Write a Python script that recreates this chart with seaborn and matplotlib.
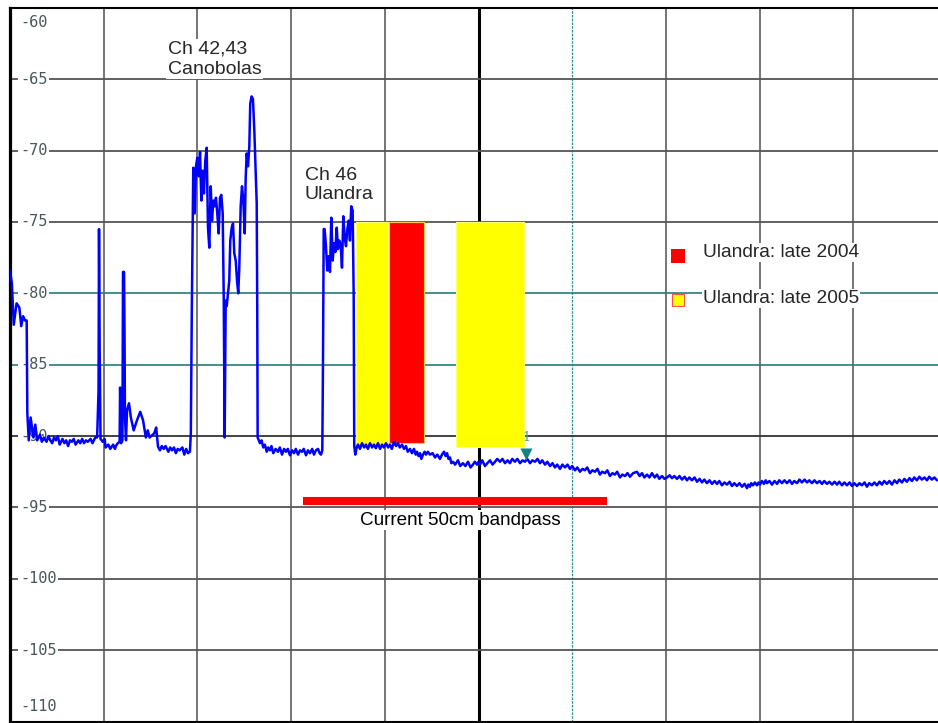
import numpy as np
import pandas as pd
import matplotlib
matplotlib.use("Agg")
import matplotlib.pyplot as plt
import seaborn as sns

# Spectrum trace: (sweep bin, level in dBm); 100 bins per division
trace_points = [
    # band edge at the left
    (0, -78.4), (2, -79.3), (4, -82.2), (7, -80.7), (10, -81.0), (12, -82.3), (14, -81.6),
    (16, -81.9), (17.8, -81.9), (18.5, -88.4), (20, -90.3), (22, -88.7), (25, -90.1),
    (27, -89.2), (29, -90.3), (32, -89.9), (34, -90.4), (36, -90.1), (39, -90.4), (41, -90.0),
    (43, -90.3), (45, -90.5), (47, -90.1), (49, -90.3), (51, -90.0), (53, -90.6), (56, -90.2),
    (58, -90.5), (60, -90.3), (62, -90.7), (64, -90.3), (66, -90.4), (68, -90.2), (70, -90.6),
    (73, -90.3), (75, -90.5), (77, -90.2), (79, -90.5), (81, -90.3), (83, -90.4), (86, -90.2),
    (88, -90.5), (91, -90.1), (93, -90.1),
    # narrow carriers
    (94.5, -86.8), (95, -75.5), (95.7, -84.0), (96.6, -90.2), (99, -90.4), (101, -90.2),
    (102, -90.8), (105, -90.6), (107, -90.9), (110, -90.6), (112, -90.9), (113, -90.7),
    (115, -90.5), (117, -90.4), (117.5, -86.6), (118.5, -90.5), (120, -90.3), (120.6, -78.5),
    (121.7, -78.5), (122.2, -82.6), (122.7, -88.7), (123.8, -90.3), (124.9, -88.2), (127, -87.7),
    (129, -88.7), (132, -89.6), (135.5, -88.9), (139, -88.3), (142, -88.9), (145, -90.1),
    (147, -89.6), (149, -90.1), (154, -89.8), (156, -89.4), (158, -90.75), (160, -91.0),
    (162, -90.7), (164, -90.9), (166, -90.7), (169, -91.1), (171, -90.8), (173, -91.0),
    (175, -90.8), (177, -91.2), (179, -90.9), (181, -91.0), (184, -90.8), (186, -91.3),
    (188, -90.9), (190, -91.2), (192, -91.1), (193, -89.8), (194, -81.4),
    # Ch 42,43 Canobolas
    (195.6, -71.2), (197.1, -74.4), (198.5, -71.1), (199.9, -70.5), (201.4, -71.8), (202.8, -70.1),
    (204.2, -73.5), (205.6, -71.4), (207.0, -73.0), (208.4, -70.7), (209.9, -69.8), (211.3, -75.4),
    (212.7, -76.8), (214.2, -72.5), (215.6, -74.9), (217.0, -73.5), (218.5, -73.9), (219.8, -73.3),
    (221.2, -74.4), (222.7, -75.8), (224.1, -73.3), (225.5, -73.1), (227.0, -74.4), (228.1, -80.2),
    (229.1, -90.1), (230.2, -80.5), (231.3, -80.9), (232.6, -80.0), (234.0, -79.1), (235.1, -76.3),
    (236.6, -75.4), (238.0, -75.1), (239.4, -77.2), (240.9, -77.7), (242.3, -79.1), (243.6, -80.0),
    (244.7, -78.2), (246.2, -73.9), (247.6, -72.5), (249.0, -73.5), (250.5, -75.8), (251.5, -72.0),
    (252.6, -70.2), (254.0, -71.1), (255.4, -69.7), (256.4, -66.7), (257.9, -66.2), (259.3, -66.4),
    (260.7, -68.5), (262.2, -71.5), (263.3, -73.7), (263.9, -81.4), (264.3, -90.1),
    (266.8, -90.5), (268.5, -90.3), (270.3, -90.8), (272, -90.6), (274.0, -91.1), (275.5, -90.8),
    (277.5, -91.0), (279, -90.7), (281.0, -91.2), (283.5, -90.9), (286.0, -91.1), (288, -90.8),
    (290.3, -91.3), (292.5, -90.9), (294.5, -91.1), (296.5, -90.9), (298.8, -91.35), (301, -91.0),
    (303.1, -91.2), (305, -90.9), (307.4, -91.3), (309.5, -91.0), (311.6, -91.1), (313.5, -90.9),
    (315.9, -91.35), (318, -91.0), (320.2, -91.2), (322.5, -90.9), (324.4, -91.3), (326.5, -91.0),
    (328.7, -90.9), (330.5, -91.2), (331.9, -91.3), (333.3, -91.0),
    # Ch 46 Ulandra
    (334.0, -85.2), (334.8, -75.5), (335.8, -75.5), (337.2, -76.7), (338.6, -78.4), (340.1, -77.4),
    (341.5, -78.5), (342.9, -74.7), (344.4, -77.7), (345.8, -76.5), (347.2, -77.1), (348.7, -75.4),
    (350.0, -76.9), (351.4, -76.3), (352.9, -76.6), (354.3, -78.2), (355.7, -74.6), (357.2, -76.1),
    (358.6, -76.7), (360.0, -75.5), (361.5, -74.9), (362.8, -76.3), (364.2, -73.9), (365.7, -74.2),
    (366.8, -80.2), (367.4, -90.7), (368.5, -91.3),
    # noise floor
    (370, -90.8), (371.4, -90.6), (373.5, -90.9), (375.7, -90.5), (378, -90.8), (379.9, -90.6),
    (382, -90.9), (384.2, -90.5), (386.5, -90.8), (388.4, -90.6), (390.5, -90.85), (392.7, -90.5),
    (395, -90.9), (397.0, -90.6), (399, -90.8), (401.3, -90.5), (403.5, -90.8), (405.5, -90.6),
    (407.5, -90.9), (409.8, -90.4), (412, -90.7), (414.1, -90.5), (416, -90.8), (418.4, -90.6),
    (420.5, -90.9), (422.6, -90.7), (424.5, -91.1), (426.9, -90.9), (429, -91.2), (431.1, -90.9),
    (433, -91.3), (434.4, -91.1), (436, -91.4), (437.6, -91.2), (439, -91.6), (440.8, -91.3),
    (442.5, -91.1), (444.0, -91.3), (446, -91.1), (448.2, -91.3), (451, -91.2), (453.6, -91.5),
    (456, -91.3), (458.9, -91.6), (461, -91.3), (463.2, -91.1), (465, -91.4), (466.4, -91.2),
    (468, -91.6), (469.6, -91.5), (471, -91.9), (472.8, -91.8), (475, -92.0), (478.1, -91.7),
    (480.5, -92.1), (483.4, -91.9), (486, -92.1), (488.8, -91.8), (491.5, -92.2), (494.1, -92.0),
    (496, -91.8), (498.4, -92.0), (500, -91.8), (501.6, -92.0), (504, -91.7), (506.9, -92.1),
    (509.5, -91.9), (512.3, -91.7), (515, -92.0), (517.6, -91.8), (520, -91.6), (522.9, -91.8),
    (525.5, -91.6), (528.3, -91.9), (531, -91.7), (533.6, -91.9), (536, -91.6), (538.9, -91.8),
    (541.5, -91.6), (544.3, -91.9), (547, -91.7), (549.6, -91.8), (552, -91.6), (555.0, -91.9),
    (557.5, -91.7), (560.3, -91.8), (563, -91.6), (565.6, -91.9), (568, -91.7), (571.0, -92.0),
    (573.5, -91.8), (576.3, -92.1), (579, -91.9), (581.6, -92.2), (584, -92.0), (587.0, -92.3),
    (589.5, -92.0), (592.3, -92.2), (595, -92.0), (597.6, -92.3), (600, -92.1), (603.0, -92.4),
    (605.5, -92.2), (608.3, -92.5), (611, -92.3), (613.6, -92.4), (616, -92.2), (619.0, -92.6),
    (621.5, -92.4), (624.3, -92.5), (627, -92.3), (629.6, -92.7), (632, -92.5), (635.0, -92.6),
    (637.5, -92.4), (640.3, -92.8), (643, -92.6), (645.6, -92.7), (648, -92.5), (651.0, -92.9),
    (653.5, -92.7), (656.3, -92.8), (659, -92.6), (661.6, -92.85), (665, -92.6), (669.1, -92.5),
    (672, -92.8), (674.5, -92.6), (677, -92.9), (679.8, -92.7), (682.5, -92.9), (685.1, -92.6),
    (688, -92.9), (690.5, -92.7), (693, -93.0), (695.8, -92.8), (698.5, -93.0), (701.2, -92.9),
    (704, -92.75), (706.5, -92.95), (709, -92.8), (711.8, -93.0), (714.5, -92.8), (717.2, -93.05),
    (720, -92.85), (722.5, -93.1), (725, -92.9), (727.8, -93.1), (730.5, -92.9), (733.2, -93.2),
    (736, -93.0), (738.5, -93.25), (741, -93.05), (743.8, -93.3), (746.5, -93.1), (749.2, -93.35),
    (752, -93.15), (754.5, -93.35), (757, -93.15), (759.8, -93.45), (762.5, -93.25), (765.2, -93.4),
    (768, -93.2), (770.5, -93.5), (773, -93.3), (775.8, -93.5), (778.5, -93.3), (781.2, -93.55),
    (784, -93.35), (786.5, -93.65), (788, -93.4), (789.7, -93.55), (791, -93.3), (792.9, -93.45),
    (795, -93.25), (797.2, -93.45), (799, -93.25), (800.4, -93.4), (802.5, -93.15), (804.7, -93.35),
    (806.5, -93.1), (807.9, -93.3), (810.5, -93.15), (813.2, -93.4), (816, -93.15), (818.6, -93.35),
    (821, -93.1), (823.9, -93.3), (826.5, -93.1), (829.2, -93.3), (832, -93.1), (834.6, -93.35),
    (837, -93.15), (839.9, -93.3), (842.5, -93.05), (845.2, -93.25), (848, -93.05), (850.6, -93.25),
    (853, -93.1), (855.9, -93.3), (858.5, -93.1), (861.2, -93.3), (864, -93.15), (866.6, -93.35),
    (869, -93.15), (871.9, -93.35), (874.5, -93.2), (877.3, -93.4), (880, -93.2), (882.6, -93.4),
    (885, -93.2), (887.9, -93.45), (890.5, -93.25), (893.2, -93.45), (896, -93.25), (898.6, -93.5),
    (901, -93.3), (903.9, -93.5), (906.5, -93.3), (909.2, -93.45), (912, -93.25), (914.6, -93.55),
    (917, -93.3), (919.9, -93.45), (922.5, -93.25), (925.2, -93.45), (928, -93.2), (930.6, -93.4),
    (933, -93.15), (935.9, -93.35), (938.5, -93.15), (941.2, -93.4), (944, -93.1), (946.6, -93.3),
    (949, -93.05), (951.9, -93.25), (954.5, -93.0), (957.2, -93.2), (960, -92.95), (962.6, -93.15),
    (965, -92.9), (967.9, -93.1), (970.5, -92.85), (973.2, -93.05), (976, -92.9), (978.6, -93.1),
    (981, -92.85), (983.9, -93.05), (986.5, -92.9), (989.3, -93.1),
]

# Ulandra occupancy blocks
band_labels = ["late 2005", "late 2004", "late 2005"]
band_start = [369.2, 404.5, 476.0]
band_end = [403.4, 441.8, 548.5]
band_top = [-75.0, -75.0, -75.0]
band_bottom = [-90.6, -90.5, -90.8]

# current receiver bandpass
bandpass_start, bandpass_end, bandpass_level = 312.7, 637.1, -94.55

# marker 1
marker_bin, marker_level = 550.7, -91.25

y_ticks = [-60, -65, -70, -75, -80, -85, -90, -95, -100, -105, -110]
x_divs = np.arange(0, 1001, 100)

df = pd.DataFrame(trace_points, columns=["bin", "dbm"])

sns.set_theme(style="white")
plt.rcParams["font.family"] = ["Liberation Sans", "DejaVu Sans"]

fig = plt.figure(figsize=(9.38, 7.23), dpi=100, facecolor="white")
ax = fig.add_axes([10 / 938, 1.5 / 723, 937 / 938, 713.6 / 723])
ax.set_xlim(0, 1000)
ax.set_ylim(-110, -60)

# graticule
for xv in x_divs[1:]:
    if xv == 500:
        ax.axvline(xv, color="black", lw=2.2, zorder=1)
    elif xv == 600:
        ax.axvline(xv, color="#2a8f8f", lw=0.9, ls=(0, (2, 1)), zorder=1)
    else:
        ax.axvline(xv, color="#6a6a6a", lw=1.3, zorder=1)
for yv in y_ticks[1:-1]:
    if yv in (-80, -85):
        ax.axhline(yv, color="#1f7f7f", lw=1.2, zorder=1)
    elif yv == -90:
        ax.axhline(yv, color="#333333", lw=1.3, zorder=1)
    else:
        ax.axhline(yv, color="#555555", lw=1.3, zorder=1)

# y labels drawn inside the screen like the analyzer does
for yv in y_ticks:
    ypos = yv
    if yv == -60:
        ypos = -61.05
    elif yv == -110:
        ypos = -108.95
    ax.text(10.7, ypos, str(yv), family="DejaVu Sans Mono", fontsize=11, color="#465858",
            ha="left", va="center", zorder=2,
            bbox=dict(boxstyle="square,pad=0.12", fc="white", ec="none"))

# occupancy blocks
for lab, s, e, t, b in zip(band_labels, band_start, band_end, band_top, band_bottom):
    fc = "#ff0000" if lab == "late 2004" else "#ffff00"
    ec = "#ffcc44" if lab == "late 2004" else "#ffff66"
    ax.bar((s + e) / 2, t - b, width=e - s, bottom=b, color=fc, edgecolor=ec, lw=0.8, zorder=3)

# trace
sns.lineplot(data=df, x="bin", y="dbm", ax=ax, color="#0000ff", lw=1.8,
             estimator=None, sort=False, zorder=4)

# bandpass bar
ax.plot([bandpass_start, bandpass_end], [bandpass_level, bandpass_level],
        color="#ff0000", lw=5.8, solid_capstyle="butt", zorder=5)
ax.text((bandpass_start + bandpass_end) / 2 + 6, -95.9, "Current 50cm bandpass", fontsize=13.6,
        ha="center", va="center", color="black", zorder=5,
        bbox=dict(boxstyle="square,pad=0.08", fc="white", ec="none"))

# marker
ax.scatter([marker_bin], [marker_level], marker="v", s=75, color="#128282", zorder=6, lw=0)
ax.text(marker_bin, -90.12, "1", family="DejaVu Serif", fontsize=9, color="#4aa0a0",
        ha="center", va="center", zorder=6)

# annotations
ax.text(168.6, -63.6, "Ch 42,43\nCanobolas", fontsize=14, ha="left", va="center",
        linespacing=1.2, zorder=5,
        bbox=dict(boxstyle="square,pad=0.08", fc="white", ec="none"))
ax.text(314.8, -72.4, "Ch 46\nUlandra", fontsize=14, ha="left", va="center",
        linespacing=1.2, zorder=3,
        bbox=dict(boxstyle="square,pad=0.08", fc="white", ec="none"))

# key
ax.scatter([713.4], [-77.37], marker="s", s=90, color="#ff0000", lw=0, zorder=5)
ax.scatter([713.4], [-80.45], marker="s", s=80, color="#ffff00", edgecolor="#ff5050", lw=0.8, zorder=5)
ax.text(739.6, -77.16, "Ulandra: late 2004", fontsize=13.8, ha="left", va="center", zorder=5,
        bbox=dict(boxstyle="square,pad=0.05", fc="white", ec="none"))
ax.text(739.6, -80.38, "Ulandra: late 2005", fontsize=13.8, ha="left", va="center", zorder=5,
        bbox=dict(boxstyle="square,pad=0.05", fc="white", ec="none"))

ax.set_xticks([])
ax.set_yticks([])
ax.set_xlabel("")
ax.set_ylabel("")
for side in ["left", "top", "bottom", "right"]:
    ax.spines[side].set_color("black")
ax.spines["left"].set_linewidth(2.3)
ax.spines["top"].set_linewidth(1.5)
ax.spines["bottom"].set_linewidth(1.5)

fig.savefig("out.png", dpi=100, facecolor="white")
